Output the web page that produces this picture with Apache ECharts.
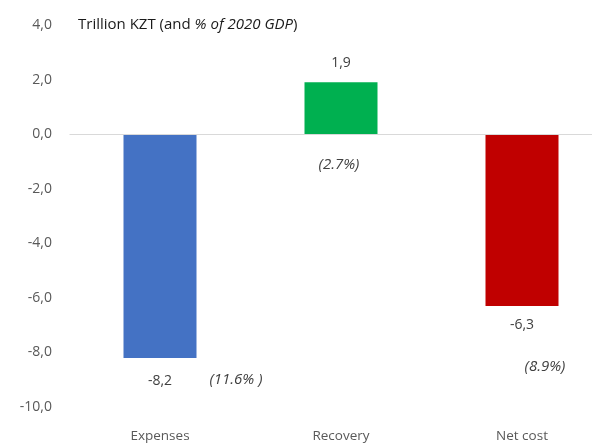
<!DOCTYPE html>
<html>
<head>
<meta charset="utf-8">
<script src="https://cdn.jsdelivr.net/npm/echarts@6/dist/echarts.min.js"></script>
<style>
  html, body { margin: 0; padding: 0; background: #fff; }
  #chart { width: 592px; height: 445px; }
</style>
</head>
<body>
<div id="chart"></div>
<script>
// Fiscal cost breakdown, trillion KZT, with share of 2020 GDP
const categories = ['Expenses', 'Recovery', 'Net cost'];
const values = [-8.2, 1.9, -6.3];
const gdpShareLabels = ['(11.6% )', '(2.7%)', '(8.9%)'];
const barColors = ['#4472C4', '#00B050', '#C00000'];
const yTicks = { min: -10, max: 4, step: 2 };

// gap between each bar end and its value label
const valueLabelGaps = [16, 12, 12];
// placement of the GDP-share notes, relative to each bar's centre
const shareOffsets = [[76, 134], [-2, 57], [23, 147]];

const font = '"Open Sans", "Noto Sans", sans-serif';
const fmt = v => v.toFixed(1).replace('.', ',');

const chart = echarts.init(document.getElementById('chart'));
chart.setOption({
  animation: false,
  title: {
    text: '{a|Trillion KZT (and }{b|% of 2020 GDP}{a|)}',
    left: 73, top: 12,
    textStyle: {
      fontWeight: 'normal',
      rich: {
        a: { fontFamily: font, fontSize: 15, fontWeight: 'normal', color: '#1a1a1a' },
        b: { fontFamily: font, fontSize: 15, fontWeight: 'normal', color: '#1a1a1a', fontStyle: 'italic' }
      }
    }
  },
  // plot area runs past the right edge so the three bands stay wide
  grid: { left: 69.5, width: 543, top: 25, bottom: 38, outerBoundsMode: 'none' },
  xAxis: {
    type: 'category',
    data: categories,
    axisLine: { show: false, onZero: false },
    axisTick: { show: false },
    axisLabel: { fontFamily: font, fontSize: 13.5, color: '#595959', margin: 22 }
  },
  yAxis: {
    type: 'value',
    min: yTicks.min, max: yTicks.max, interval: yTicks.step,
    axisLine: { show: false },
    axisTick: { show: false },
    splitLine: { show: false },
    axisLabel: { fontFamily: font, fontSize: 14, color: '#595959', margin: 17.5, formatter: fmt }
  },
  series: [
    {
      type: 'bar',
      barWidth: 73,
      data: values.map((v, i) => ({
        value: v,
        itemStyle: { color: barColors[i] },
        label: { distance: valueLabelGaps[i] }
      })),
      label: {
        show: true,
        position: 'outside',
        fontFamily: font, fontSize: 14, color: '#404040',
        formatter: p => fmt(p.value)
      },
      markLine: {
        silent: true,
        symbol: 'none',
        label: { show: false },
        lineStyle: { color: '#d9d9d9', width: 1, type: 'solid' },
        data: [{ yAxis: 0 }]
      }
    },
    {
      // transparent overlay carrying the GDP-share notes
      type: 'bar',
      barWidth: 73,
      barGap: '-100%',
      silent: true,
      itemStyle: { color: 'rgba(0,0,0,0)' },
      data: values.map((v, i) => ({
        value: v,
        label: { offset: shareOffsets[i] }
      })),
      label: {
        show: true,
        position: 'inside',
        fontFamily: font, fontSize: 15, fontStyle: 'italic', color: '#404040',
        formatter: p => gdpShareLabels[p.dataIndex]
      }
    }
  ]
});
</script>
</body>
</html>
